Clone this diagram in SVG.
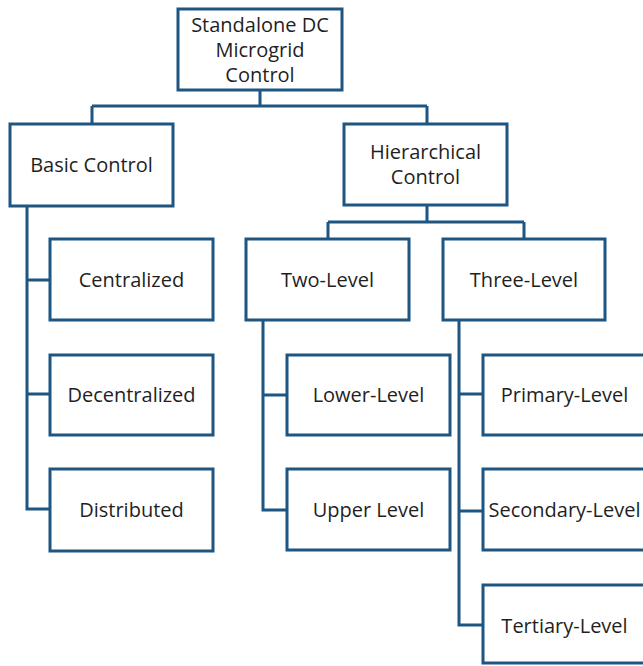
<svg xmlns="http://www.w3.org/2000/svg" width="643" height="666" viewBox="0 0 643 666">
  <style>
    .box { fill: #ffffff; stroke: #1d5583; stroke-width: 3; }
    .link { fill: none; stroke: #1d5583; stroke-width: 3; }
    .label { font-family: "Open Sans", "Noto Sans", sans-serif; font-size: 20px; fill: #1f1f1f; text-anchor: middle; }
  </style>
  <rect width="643" height="666" fill="#ffffff"/>

  <g id="connectors">
    <!-- root to first level -->
    <path class="link" d="M260,90 V106 M92,106 H427 M92,106 V124 M427,106 V124"/>
    <!-- basic control branches -->
    <path class="link" d="M27,206 V509 H50 M27,280 H50 M27,394 H50"/>
    <!-- hierarchical control split -->
    <path class="link" d="M427,205 V222 M328,222 H524 M328,222 V239 M524,222 V239"/>
    <!-- two-level branches -->
    <path class="link" d="M263,320 V510 H287 M263,395 H287"/>
    <!-- three-level branches -->
    <path class="link" d="M459,320 V625 H483 M459,394 H483 M459,511 H483"/>
  </g>

  <g id="root">
    <rect class="box" x="178" y="9" width="164" height="81"/>
    <text class="label" x="260" y="32">Standalone DC</text>
    <text class="label" x="260" y="57">Microgrid</text>
    <text class="label" x="260" y="82">Control</text>
  </g>

  <g id="basic-control">
    <rect class="box" x="10" y="124" width="163" height="82"/>
    <text class="label" x="91.5" y="172">Basic Control</text>
  </g>

  <g id="hierarchical-control">
    <rect class="box" x="344" y="124" width="163" height="81"/>
    <text class="label" x="425.5" y="159">Hierarchical</text>
    <text class="label" x="425.5" y="184">Control</text>
  </g>

  <g id="centralized">
    <rect class="box" x="50" y="239" width="163" height="81"/>
    <text class="label" x="131.5" y="287">Centralized</text>
  </g>

  <g id="decentralized">
    <rect class="box" x="50" y="355" width="163" height="80"/>
    <text class="label" x="131.5" y="402">Decentralized</text>
  </g>

  <g id="distributed">
    <rect class="box" x="50" y="469" width="163" height="82"/>
    <text class="label" x="131.5" y="517">Distributed</text>
  </g>

  <g id="two-level">
    <rect class="box" x="246" y="239" width="163" height="81"/>
    <text class="label" x="327.5" y="287">Two-Level</text>
  </g>

  <g id="three-level">
    <rect class="box" x="443" y="239" width="162" height="81"/>
    <text class="label" x="524" y="287">Three-Level</text>
  </g>

  <g id="lower-level">
    <rect class="box" x="287" y="355" width="163" height="80"/>
    <text class="label" x="368.5" y="402">Lower-Level</text>
  </g>

  <g id="upper-level">
    <rect class="box" x="287" y="469" width="163" height="81"/>
    <text class="label" x="368.5" y="517">Upper Level</text>
  </g>

  <g id="primary-level">
    <rect class="box" x="483" y="355" width="163" height="80"/>
    <text class="label" x="564.5" y="402">Primary-Level</text>
  </g>

  <g id="secondary-level">
    <rect class="box" x="483" y="469" width="163" height="81"/>
    <text class="label" x="564.5" y="517">Secondary-Level</text>
  </g>

  <g id="tertiary-level">
    <rect class="box" x="483" y="585" width="163" height="78"/>
    <text class="label" x="564.5" y="633">Tertiary-Level</text>
  </g>
</svg>
